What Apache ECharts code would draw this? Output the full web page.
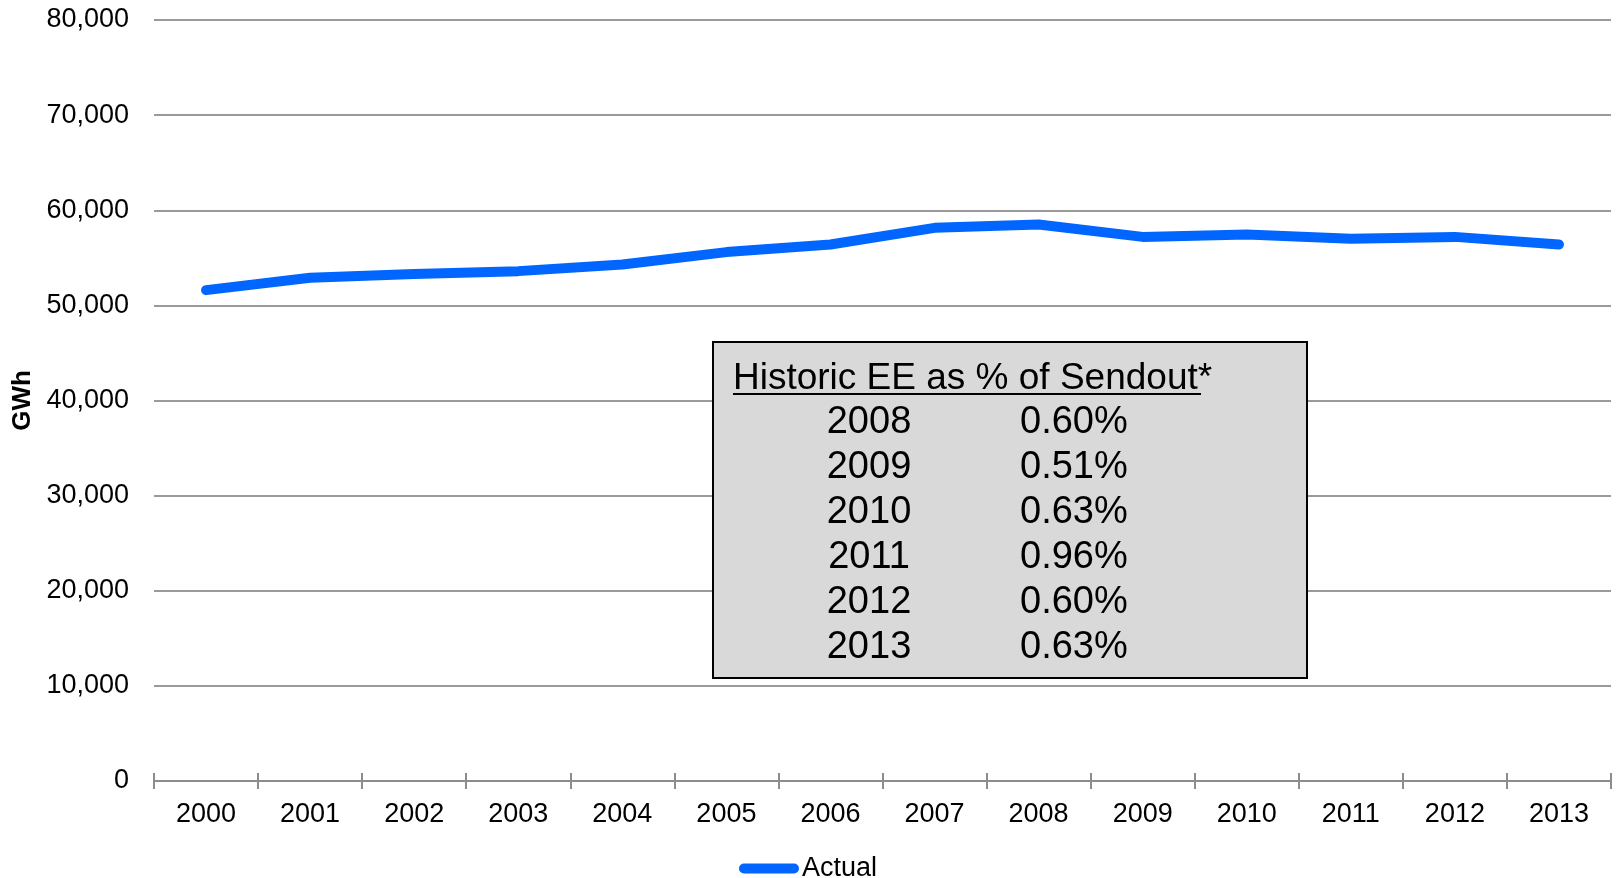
<!DOCTYPE html>
<html>
<head>
<meta charset="utf-8">
<style>
  html, body { margin: 0; padding: 0; background: #ffffff; }
  #chart { width: 1616px; height: 878px; }
</style>
<script src="https://cdn.jsdelivr.net/npm/echarts@6/dist/echarts.min.js"></script>
</head>
<body>
<div id="chart"></div>
<script>
var years = ['2000', '2001', '2002', '2003', '2004', '2005', '2006', '2007', '2008', '2009', '2010', '2011', '2012', '2013'];
var actual = [51600, 52900, 53300, 53600, 54300, 55600, 56400, 58150, 58500, 57200, 57450, 57000, 57200, 56400];

// inset table
var tableTitle = 'Historic EE as % of Sendout*';
var tableYears = ['2008', '2009', '2010', '2011', '2012', '2013'];
var tablePcts = ['0.60%', '0.51%', '0.63%', '0.96%', '0.60%', '0.63%'];

var font = '"Liberation Sans", Arial, sans-serif';
var chart = echarts.init(document.getElementById('chart'));

var boxItems = [{
  type: 'rect', z: 100,
  shape: { x: 713, y: 342, width: 594, height: 336 },
  style: { fill: '#d9d9d9', stroke: '#000000', lineWidth: 2 }
}, {
  type: 'text', z: 101,
  x: 733, y: 379,
  style: { text: tableTitle, fill: '#000', font: '37px ' + font, textAlign: 'left', textVerticalAlign: 'middle' }
}, {
  type: 'line', z: 101,
  shape: { x1: 733, y1: 394, x2: 1201, y2: 394 },
  style: { stroke: '#000', lineWidth: 2 }
}];
tableYears.forEach(function (y, i) {
  var cy = 423 + i * 44.9;
  boxItems.push({
    type: 'text', z: 101, x: 869, y: cy,
    style: { text: y, fill: '#000', font: '38px ' + font, textAlign: 'center', textVerticalAlign: 'middle' }
  });
  boxItems.push({
    type: 'text', z: 101, x: 1020, y: cy,
    style: { text: tablePcts[i], fill: '#000', font: '38px ' + font, textAlign: 'left', textVerticalAlign: 'middle' }
  });
});

var option = {
  backgroundColor: '#ffffff',
  animation: false,
  grid: { left: 154, right: 5, top: 20, bottom: 97, outerBoundsMode: 'none' },
  legend: {
    top: 850,
    left: 'center',
    itemWidth: 60,
    itemHeight: 10,
    itemGap: 20,
    icon: 'path://M5,0 H55 A5,5 0 0 1 55,10 H5 A5,5 0 0 1 5,0 Z',
    textStyle: { fontFamily: font, fontSize: 27, color: '#000', padding: [0, 0, 0, -2] },
    data: ['Actual']
  },
  xAxis: [{
    type: 'category',
    data: years,
    boundaryGap: true,
    axisLine: { lineStyle: { color: '#8c8c8c', width: 2 } },
    axisTick: { show: true, length: 8, lineStyle: { color: '#8c8c8c', width: 2 } },
    axisLabel: { color: '#000', fontFamily: font, fontSize: 27, margin: 20 }
  }, {
    type: 'category',
    data: years,
    position: 'bottom',
    boundaryGap: true,
    axisLine: { show: false },
    axisTick: { show: true, inside: true, length: 8, lineStyle: { color: '#8c8c8c', width: 2 } },
    axisLabel: { show: false }
  }],
  yAxis: {
    type: 'value',
    min: 0,
    max: 80000,
    interval: 10000,
    name: 'GWh',
    nameLocation: 'middle',
    nameGap: 114,
    nameTextStyle: { fontFamily: font, fontSize: 26, fontWeight: 'bold', color: '#000' },
    axisLine: { show: false },
    axisTick: { show: false },
    splitLine: { lineStyle: { color: '#9a9a9a', width: 2 } },
    axisLabel: {
      color: '#000', fontFamily: font, fontSize: 27, margin: 25,
      padding: [4, 0, 0, 0],
      formatter: function (v) { return v.toLocaleString('en-US'); }
    }
  },
  series: [{
    name: 'Actual',
    type: 'line',
    data: actual,
    showSymbol: false,
    symbol: 'none',
    color: '#0066ff',
    lineStyle: { color: '#0066ff', width: 10, cap: 'round', join: 'round' },
    z: 5
  }],
  graphic: boxItems
};

chart.setOption(option);
</script>
</body>
</html>
